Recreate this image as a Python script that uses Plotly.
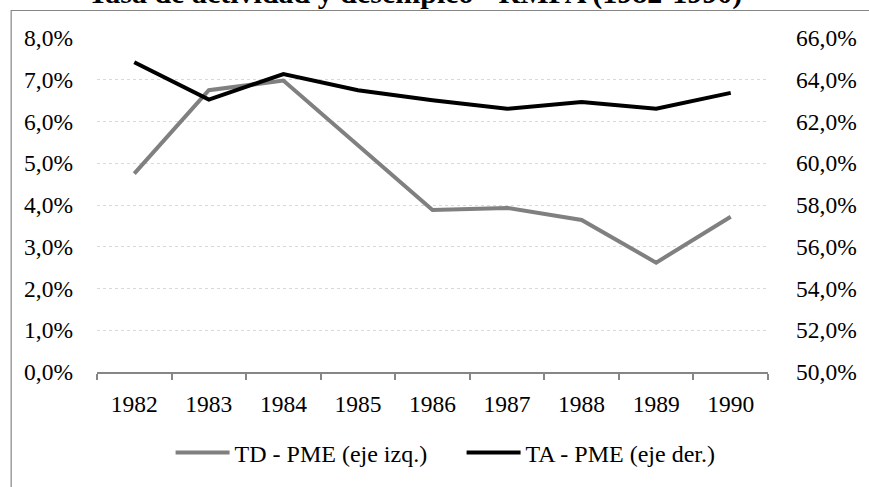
import plotly.graph_objects as go

years = ["1982", "1983", "1984", "1985", "1986", "1987", "1988", "1989", "1990"]
td_pme = [4.75, 6.75, 6.98, 5.43, 3.88, 3.93, 3.64, 2.62, 3.72]
ta_pme = [64.84, 63.05, 64.27, 63.50, 63.02, 62.61, 62.93, 62.61, 63.37]
left_ticks = [0, 1, 2, 3, 4, 5, 6, 7, 8]
right_ticks = [50, 52, 54, 56, 58, 60, 62, 64, 66]

FONT = "Liberation Serif, Times New Roman, serif"


def pct(v):
    return f"{v:.1f}".replace(".", ",") + "%"


fig = go.Figure()
fig.add_trace(go.Scatter(
    x=years, y=td_pme, name="TD - PME (eje izq.)", mode="lines",
    line=dict(color="#808080", width=4), yaxis="y"))
fig.add_trace(go.Scatter(
    x=years, y=ta_pme, name="TA - PME (eje der.)", mode="lines",
    line=dict(color="#000000", width=4), yaxis="y2"))

W, H = 869, 487
L, R, T, B = 97, 781, 37.8, 375.2


def px(x):
    return (x - L) / (R - L)


def py(y):
    return (B - y) / (B - T)


fig.update_layout(
    width=W, height=H,
    margin=dict(l=L, r=W - R, t=T, b=H - B),
    paper_bgcolor="white", plot_bgcolor="white",
    font=dict(family=FONT, size=23.5, color="#000000"),
    annotations=[dict(text="<b>Tasa de actividad y desempleo - RMPA (1982-1990)</b>",
                      xref="paper", yref="paper", x=px(421), y=py(-8),
                      xanchor="center", yanchor="middle", showarrow=False,
                      font=dict(family=FONT, size=30, color="#000000"))],
    showlegend=True,
    legend=dict(orientation="h", x=px(172), xanchor="left", y=py(457),
                yanchor="middle", font=dict(family=FONT, size=24),
                bgcolor="rgba(0,0,0,0)", itemwidth=54, entrywidth=222,
                tracegroupgap=0),
    xaxis=dict(type="category", showgrid=False, showline=True,
               linecolor="#868686", linewidth=1.5, ticks="outside",
               tickson="boundaries", ticklen=6, tickcolor="#868686",
               tickwidth=1.5, ticklabelstandoff=10,
               tickfont=dict(family=FONT, size=23.5),
               range=[-0.5, 8.5]),
    yaxis=dict(range=[0, 8], tickvals=left_ticks,
               ticktext=[pct(v) for v in left_ticks],
               showgrid=True, gridcolor="#d9d9d9",
               griddash="dot", gridwidth=1, zeroline=False, showline=False,
               ticks="", ticklabelstandoff=23,
               tickfont=dict(family=FONT, size=23.5)),
    yaxis2=dict(range=[50, 66], tickvals=right_ticks,
                ticktext=[pct(v) for v in right_ticks],
                overlaying="y", side="right", showgrid=False,
                zeroline=False, showline=False, ticks="", ticklabelstandoff=27,
                tickfont=dict(family=FONT, size=23.5)),
    shapes=[dict(type="rect", xref="paper", yref="paper",
                 x0=px(9.5), x1=px(1300), y0=py(700), y1=py(10),
                 line=dict(color="#868686", width=1.2),
                 fillcolor="rgba(0,0,0,0)", layer="below")],
)

fig.write_html("out.html",
               config={"displayModeBar": False},
               post_script="document.body.style.margin='0';"
                           "document.body.style.overflow='hidden';")
